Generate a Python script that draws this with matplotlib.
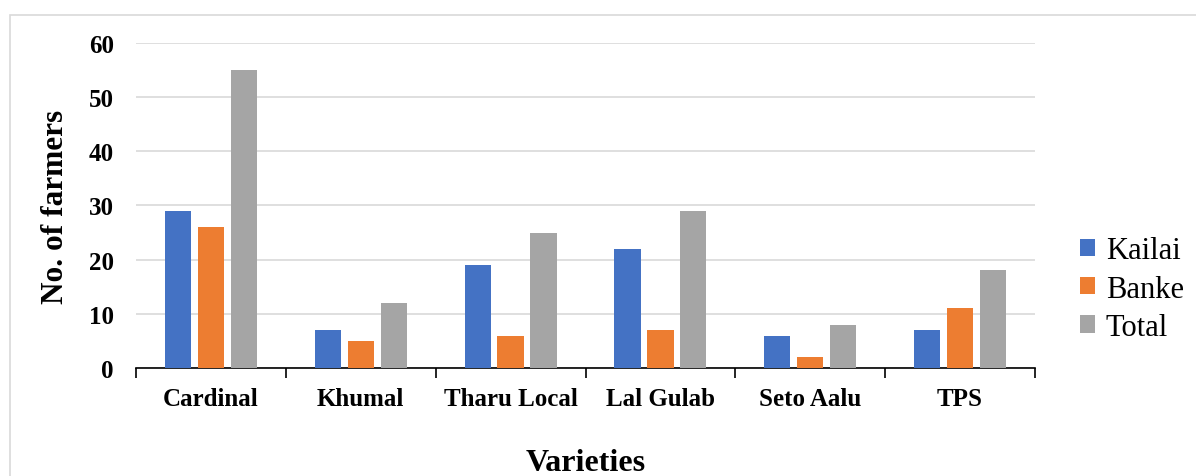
import numpy as np
import matplotlib.pyplot as plt
from matplotlib.patches import Rectangle

varieties = ['Cardinal', 'Khumal', 'Tharu Local', 'Lal Gulab', 'Seto Aalu', 'TPS']
kailai = [29, 7, 19, 22, 6, 7]
banke = [26, 5, 6, 7, 2, 11]
total = [55, 12, 25, 29, 8, 18]

series = [('Kailai', kailai, '#4472C4'),
          ('Banke', banke, '#ED7D31'),
          ('Total', total, '#A5A5A5')]

plt.rcParams['font.family'] = ['Liberation Serif', 'DejaVu Serif']

fig = plt.figure(figsize=(11.96, 4.77), dpi=100)
# outer chart border (partly cropped in the original)
fig.patches.append(Rectangle((10 / 1196, -0.1), 1.2, 1 - 16 / 477 + 0.1,
                             transform=fig.transFigure, fill=False,
                             edgecolor='#d9d9d9', linewidth=1.2))

ax = fig.add_axes([0.1137, 0.2264, 0.7517, 0.6814])

x = np.arange(len(varieties))
width = 0.175
step = 0.22
for i, (name, vals, color) in enumerate(series):
    ax.bar(x + (i - 1) * step, vals, width, color=color, label=name, zorder=3)

ax.set_xlim(-0.5, len(varieties) - 0.5)
ax.set_ylim(0, 60)
ax.set_yticks(range(0, 61, 10))
ax.yaxis.grid(True, color='#d9d9d9', linewidth=1.2, zorder=0)
ax.tick_params(axis='y', length=0, pad=16, labelsize=18)
for lbl in ax.get_yticklabels():
    lbl.set_fontweight('bold')

ax.set_xticks(x)
ax.set_xticklabels(varieties, fontsize=18, fontweight='bold')
ax.set_xticks(np.arange(-0.5, len(varieties)), minor=True)
ax.tick_params(axis='x', which='major', length=0, pad=14)
ax.tick_params(axis='x', which='minor', length=7, width=1.2, color='black')

for s in ['top', 'right', 'left']:
    ax.spines[s].set_visible(False)
ax.spines['bottom'].set_linewidth(1.2)

ax.set_ylabel('No. of farmers', fontsize=22.5, fontweight='bold')
ax.yaxis.set_label_coords(-0.073, 0.5)
ax.set_xlabel('Varieties', fontsize=23, fontweight='bold')
ax.xaxis.set_label_coords(0.5, -0.245)

fig.legend(loc='center left', bbox_to_anchor=(1080 / 1196, 1 - 290 / 477),
           frameon=False, fontsize=22, handlelength=0.5, handleheight=0.5,
           handletextpad=0.35, labelspacing=0.3, borderpad=0, borderaxespad=0)

fig.savefig('out.png', dpi=100)
